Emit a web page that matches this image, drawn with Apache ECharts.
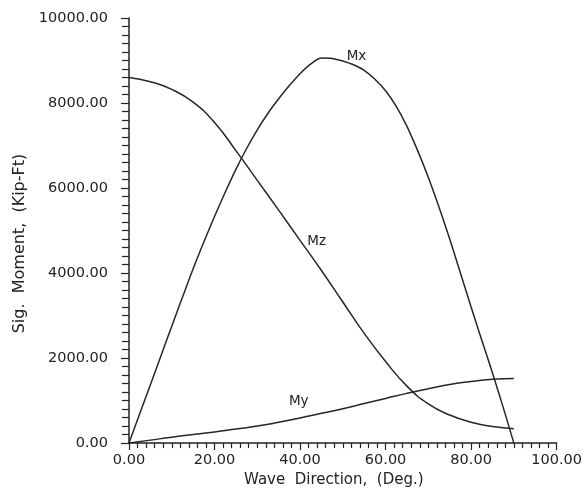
<!DOCTYPE html>
<html><head><meta charset="utf-8">
<script src="https://cdn.jsdelivr.net/npm/echarts@6/dist/echarts.min.js"></script>
<style>html,body{margin:0;padding:0;background:#fff}#c{width:585px;height:493px}</style>
</head><body><div id="c"></div>
<script>
const directions = [0,5,10,15,20,25,30,35,40,45,50,55,60,65,70,75,80,85,90];
const mxDirections = [0,2.5,5,7.5,10,12.5,15,17.5,20,22.5,25,27.5,30,32.5,35,37.5,40,42.5,45,47.5,50,52.5,55,57.5,60,62.5,65,67.5,70,72.5,75,77.5,80,82.5,85,87.5,90];
const mx = [0,690,1370,2060,2750,3430,4100,4730,5330,5900,6440,6930,7370,7760,8100,8410,8690,8920,9060,9050,8990,8900,8770,8560,8290,7920,7450,6880,6250,5550,4800,4000,3200,2420,1650,840,0];
const my = [0,70,140,200,260,330,400,490,590,700,810,930,1050,1170,1280,1380,1450,1500,1520];
const mz = [8600,8500,8320,8020,7540,6880,6180,5480,4770,4060,3320,2580,1920,1340,920,660,490,390,340];
const seriesNames = ['Mx','My','Mz'];
const xAxisTitle = 'Wave  Direction,  (Deg.)';
const yAxisTitle = 'Sig.  Moment,  (Kip-Ft)';

const ink = '#222';
const font = 'DejaVu Sans';
const labelAnchors = { Mx: [53.2, 9090], My: [39.7, 984], Mz: [43.9, 4754] };
const xs = { Mx: mxDirections, My: directions, Mz: directions };
const values = { Mx: mx, My: my, Mz: mz };

const chart = echarts.init(document.getElementById('c'), null, { renderer: 'canvas' });
chart.setOption({
  animation: false,
  backgroundColor: '#fff',
  grid: { left: 129, right: 27, top: 18, bottom: 48 },
  xAxis: {
    type: 'value', min: 0, max: 100, interval: 20,
    name: xAxisTitle, nameLocation: 'middle', nameGap: 22,
    nameTextStyle: { fontFamily: font, fontSize: 15, color: ink, padding: [0, 18, 0, 0], verticalAlign: 'top' },
    axisLine: { show: true, lineStyle: { color: ink, width: 1.5 } },
    axisTick: { show: true, length: 7, lineStyle: { color: ink, width: 1.2 } },
    minorTick: { show: true, splitNumber: 10, length: 5, lineStyle: { color: ink, width: 1.2 } },
    splitLine: { show: false },
    axisLabel: { margin: 10, fontFamily: font, fontSize: 14.5, color: ink, formatter: v => v.toFixed(2) }
  },
  yAxis: {
    type: 'value', min: 0, max: 10000, interval: 2000,
    name: yAxisTitle, nameLocation: 'middle', nameGap: 100,
    nameTextStyle: { fontFamily: font, fontSize: 16, color: ink, padding: [0, 26, 0, 0] },
    axisLine: { show: true, lineStyle: { color: ink, width: 1.5 } },
    axisTick: { show: true, length: 8, lineStyle: { color: ink, width: 1.2 } },
    minorTick: { show: true, splitNumber: 10, length: 7, lineStyle: { color: ink, width: 1.2 } },
    splitLine: { show: false },
    axisLabel: { margin: 21, fontFamily: font, fontSize: 14.5, color: ink, formatter: v => v.toFixed(2) }
  },
  series: seriesNames.map(n => ({
    name: n, type: 'line', smooth: n === 'Mx' ? 0.3 : 0.5, symbol: 'none',
    lineStyle: { color: '#262626', width: 1.5 },
    data: xs[n].map((d, i) => [d, values[n][i]]),
    markPoint: {
      symbol: 'circle', symbolSize: 0,
      label: { show: true, position: 'inside', formatter: n, fontFamily: font, fontSize: 13.5, color: ink },
      data: [{ coord: labelAnchors[n] }]
    }
  }))
});
</script></body></html>
